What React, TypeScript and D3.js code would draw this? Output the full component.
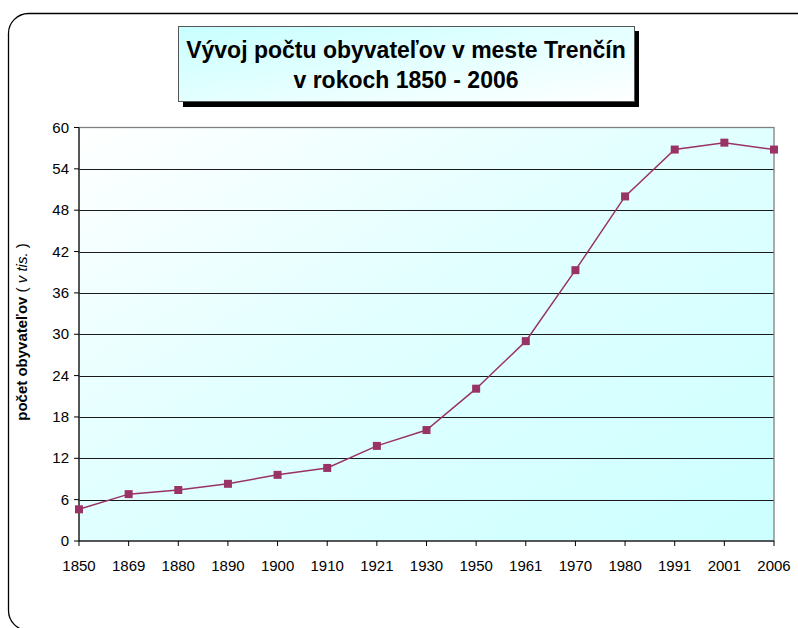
import React from "react";
import * as d3 from "d3";

const years = ["1850","1869","1880","1890","1900","1910","1921","1930","1950","1961","1970","1980","1991","2001","2006"];
const population = [4.6, 6.8, 7.4, 8.3, 9.6, 10.6, 13.8, 16.1, 22.1, 29.0, 39.3, 50.0, 56.8, 57.8, 56.8];
const yTicks = [0, 6, 12, 18, 24, 30, 36, 42, 48, 54, 60];
const titleLines = ["Vývoj počtu obyvateľov v meste Trenčín", "v rokoch 1850 - 2006"];

const W = 798, H = 628;
const plot = { left: 79, right: 774, top: 127.5, bottom: 541 };
const font = "'Liberation Sans', Arial, sans-serif";

export default function App() {
  const x = d3.scalePoint<string>().domain(years).range([plot.left, plot.right]);
  const y = d3.scaleLinear().domain([0, 60]).range([plot.bottom, plot.top]);
  const line = d3.line<number>().x((_, i) => x(years[i])!).y((d) => y(d));
  const ms = 8;

  return (
    <svg width={W} height={H} style={{ position: "absolute", left: 0, top: 0, background: "#fff" }} fontFamily={font}>
      <defs>
        <linearGradient id="plotGrad" x1="0" y1="0" x2="1" y2="1">
          <stop offset="0" stopColor="#ffffff" />
          <stop offset="0.45" stopColor="#e2ffff" />
          <stop offset="1" stopColor="#ccffff" />
        </linearGradient>
        <linearGradient id="titleGrad" x1="0" y1="0" x2="1" y2="1">
          <stop offset="0" stopColor="#c8ffff" />
          <stop offset="1" stopColor="#ffffff" />
        </linearGradient>
      </defs>
      <rect x={8.5} y={13.5} width={820} height={617} rx={20} ry={20} fill="#fff" stroke="#000" strokeWidth={1.3} />

      {/* title box */}
      <rect x={183} y={31} width={456} height={76} fill="#000" />
      <rect x={178.5} y={26.5} width={456} height={75} fill="url(#titleGrad)" stroke="#555" strokeWidth={1} />
      <text x={406} y={58} textAnchor="middle" fontSize={23} fontWeight="bold" fill="#000">{titleLines[0]}</text>
      <text x={406} y={88} textAnchor="middle" fontSize={23} fontWeight="bold" fill="#000">{titleLines[1]}</text>

      {/* plot area */}
      <rect x={plot.left} y={plot.top} width={plot.right - plot.left} height={plot.bottom - plot.top} fill="url(#plotGrad)" />
      {yTicks.filter((t) => t > 0 && t < 60).map((t) => (
        <line key={t} x1={plot.left} x2={plot.right} y1={Math.round(y(t)) + 0.5} y2={Math.round(y(t)) + 0.5} stroke="#1a1a1a" strokeWidth={1} />
      ))}
      <rect x={plot.left} y={plot.top} width={plot.right - plot.left} height={plot.bottom - plot.top} fill="none" stroke="#808080" strokeWidth={1.3} />

      {/* axes */}
      <line x1={plot.left} x2={plot.left} y1={plot.top} y2={plot.bottom} stroke="#000" strokeWidth={1} />
      <line x1={plot.left} x2={plot.right} y1={plot.bottom} y2={plot.bottom} stroke="#000" strokeWidth={1} />
      {yTicks.map((t) => (
        <g key={t}>
          <line x1={plot.left - 5} x2={plot.left} y1={y(t)} y2={y(t)} stroke="#000" />
          <text x={plot.left - 10} y={y(t) + 5} textAnchor="end" fontSize={15} fill="#000">{t}</text>
        </g>
      ))}
      {years.map((yr) => (
        <g key={yr}>
          <line x1={x(yr)} x2={x(yr)} y1={plot.bottom} y2={plot.bottom + 5} stroke="#000" />
          <text x={x(yr)} y={plot.bottom + 30} textAnchor="middle" fontSize={15} fill="#000">{yr}</text>
        </g>
      ))}

      {/* y axis title */}
      <text transform={`translate(27,332) rotate(-90)`} textAnchor="middle" fontSize={15} fill="#000">
        <tspan fontWeight="bold">počet obyvateľov</tspan>
        <tspan>{"  ( "}</tspan>
        <tspan fontStyle="italic">v tis.</tspan>
        <tspan>{" )"}</tspan>
      </text>

      {/* series */}
      <path d={line(population)!} fill="none" stroke="#993366" strokeWidth={1.5} />
      {population.map((v, i) => (
        <rect key={i} x={x(years[i])! - ms / 2} y={y(v) - ms / 2} width={ms} height={ms} fill="#993366" />
      ))}
    </svg>
  );
}
